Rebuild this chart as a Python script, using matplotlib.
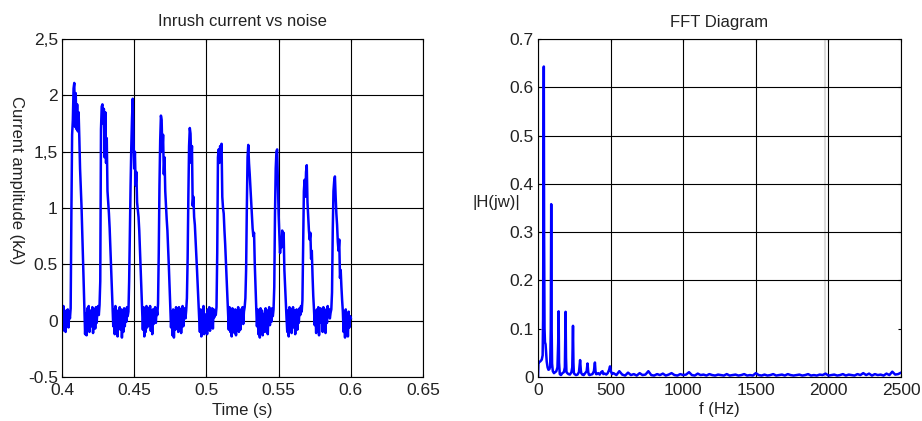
import numpy as np
import matplotlib
matplotlib.use("Agg")
import matplotlib.pyplot as plt

plt.rcParams['font.family'] = ['Liberation Sans', 'DejaVu Sans']

# inrush current samples (kA), one list per 20 ms cycle, sampled every 0.5 ms
t_start = 0.4
sample_step = 0.0005
cycle_1 = [0.03, -0.09, 0.13, -0.07, 0.06, -0.10, 0.09, -0.03, 0.10, -0.06, 0.08, 0.02, 0.11,
           0.95, 1.65, 1.78, 2.06, 2.11, 1.72, 2.02, 1.70, 1.92, 1.68, 1.85, 1.62, 1.35, 1.18, 1.02, 0.80, 0.58, 0.34, 0.10,
           -0.12, 0.06, -0.13, 0.11, -0.08, 0.13, -0.10, 0.04]
cycle_2 = [0.09, -0.05, 0.12, -0.11, 0.03, 0.10, -0.07, 0.12, -0.02, 0.08, 0.13, 0.05, 0.14,
           0.35, 1.70, 1.90, 1.92, 1.75, 1.88, 1.45, 1.85, 1.40, 1.62, 1.15, 1.05, 0.95, 0.82, 0.65, 0.50, 0.30, 0.12, -0.05,
           0.10, -0.12, 0.13, -0.06, 0.09, -0.14, 0.07, -0.04]
cycle_3 = [0.12, -0.08, 0.10, -0.15, 0.05, -0.10, 0.11, -0.05, 0.09, -0.01, 0.12, 0.04, 0.08,
           0.35, 0.80, 1.20, 1.55, 1.80, 1.97, 1.62, 1.35, 1.50, 1.20, 1.32, 1.05, 0.98, 0.92, 0.80, 0.62, 0.45, 0.28, 0.10,
           -0.08, 0.12, -0.14, 0.06, -0.10, 0.13, -0.06, 0.08]
cycle_4 = [0.11, -0.04, 0.13, -0.09, 0.07, -0.12, 0.10, -0.03, 0.06, 0.12, -0.02, 0.10, 0.05,
           0.15, 0.60, 1.20, 1.60, 1.82, 1.78, 1.50, 1.65, 1.30, 1.45, 1.15, 1.02, 0.90, 0.80, 0.65, 0.48, 0.30, 0.14, -0.06,
           0.08, -0.13, 0.10, -0.15, 0.05, -0.08, 0.12, -0.03]
cycle_5 = [0.09, -0.10, 0.12, -0.06, 0.10, -0.11, 0.04, 0.13, -0.05, 0.08, 0.11, 0.02, 0.09,
           0.20, 0.55, 1.10, 1.55, 1.71, 1.66, 1.40, 1.55, 1.02, 1.10, 0.92, 0.85, 0.72, 0.60, 0.45, 0.30, 0.15, 0.02, -0.10,
           0.10, -0.14, 0.07, -0.08, 0.13, -0.12, 0.05, -0.06]
cycle_6 = [0.06, -0.12, 0.10, -0.04, 0.12, -0.09, 0.08, -0.02, 0.11, -0.07, 0.10, 0.03, 0.07,
           0.05, 0.12, 0.60, 1.45, 1.52, 1.40, 1.55, 1.50, 1.57, 1.10, 1.00, 0.95, 0.80, 0.68, 0.52, 0.38, 0.22, 0.08, -0.08,
           0.12, -0.10, 0.08, -0.14, 0.11, -0.05, 0.09, -0.11]
cycle_7 = [0.10, -0.13, 0.08, -0.06, 0.12, -0.10, 0.05, -0.08, 0.10, 0.02, 0.12, -0.03, 0.08,
           0.12, 0.20, 0.45, 1.00, 1.45, 1.56, 1.40, 1.30, 1.18, 1.05, 0.95, 0.82, 0.75, 0.78, 0.50, 0.30, 0.12, -0.05, 0.10,
           -0.12, 0.07, -0.15, 0.11, -0.06, 0.09, -0.13, 0.06]
cycle_8 = [0.05, -0.10, 0.11, -0.03, 0.09, -0.12, 0.06, 0.12, -0.04, 0.10, -0.01, 0.11, 0.04,
           0.10, 0.30, 0.95, 1.35, 1.50, 1.52, 1.25, 0.95, 0.78, 0.60, 0.72, 0.65, 0.80, 0.70, 0.78, 0.45, 0.30, 0.15, 0.02,
           -0.10, 0.09, -0.14, 0.12, -0.05, 0.10, -0.11, 0.07]
cycle_9 = [0.12, -0.06, 0.09, -0.12, 0.04, 0.10, -0.08, 0.07, -0.02, 0.11, 0.05, 0.13, 0.08,
           0.18, 0.70, 1.15, 1.25, 1.10, 1.32, 1.38, 1.05, 0.92, 0.80, 0.72, 0.78, 0.55, 0.62, 0.40, 0.22, 0.10, -0.04, 0.08,
           -0.11, 0.10, -0.07, 0.12, -0.13, 0.06, 0.11, -0.02]
cycle_10 = [0.04, -0.10, 0.12, -0.05, 0.09, -0.11, 0.10, -0.02, 0.13, 0.06, 0.10, 0.02, 0.07,
            0.10, 0.25, 0.80, 1.15, 1.24, 1.28, 1.10, 0.95, 0.85, 0.70, 0.62, 0.72, 0.38, 0.45, 0.30, 0.18, 0.08, -0.10,
            0.05, -0.15, 0.10, -0.12, 0.03, -0.14, 0.08, -0.06, 0.04, 0.02]

current = np.array(cycle_1 + cycle_2 + cycle_3 + cycle_4 + cycle_5 +
                   cycle_6 + cycle_7 + cycle_8 + cycle_9 + cycle_10)
time = t_start + sample_step * np.arange(len(current))

# spectrum magnitude, low frequency harmonics
fft_freq_low = [0, 3, 10, 18, 26, 32, 35, 38, 40, 42, 45, 48, 52, 56, 60, 66, 72, 78, 84, 88, 91, 94, 97,
                102, 110, 118, 126, 134, 139, 142, 145, 150, 158, 168, 178, 185, 190, 193, 196, 202,
                210, 220, 230, 236, 241, 244, 247, 252, 262, 272, 282, 290, 295, 298, 305, 315, 325,
                335, 341, 346, 350, 355, 365, 375, 385, 392, 396, 400, 405, 415, 425, 435, 444, 450,
                460, 470, 480, 490, 496, 502, 510]
fft_mag_low = [0.0, 0.030, 0.031, 0.033, 0.036, 0.045, 0.12, 0.46, 0.643, 0.30, 0.10, 0.072, 0.068, 0.05, 0.032,
               0.020, 0.015, 0.016, 0.022, 0.10, 0.358, 0.10, 0.028, 0.012, 0.008, 0.010, 0.012, 0.020,
               0.070, 0.136, 0.030, 0.006, 0.004, 0.008, 0.010, 0.020, 0.135, 0.040, 0.010, 0.008,
               0.006, 0.005, 0.010, 0.020, 0.106, 0.030, 0.008, 0.006, 0.004, 0.005, 0.010, 0.035, 0.014,
               0.008, 0.005, 0.004, 0.008, 0.012, 0.028, 0.010, 0.005, 0.004, 0.005, 0.006, 0.012, 0.030,
               0.012, 0.006, 0.006, 0.008, 0.005, 0.010, 0.012, 0.006, 0.007, 0.005, 0.008, 0.015, 0.022,
               0.012, 0.006]

# noise floor above 500 Hz, 20 Hz steps
fft_freq_tail = list(range(520, 2501, 20))
fft_mag_tail = [0.008, 0.004, 0.012, 0.005, 0.003, 0.009, 0.004, 0.006, 0.003, 0.008, 0.004, 0.005, 0.012,
                0.004, 0.003, 0.006, 0.004, 0.007, 0.003, 0.005, 0.008, 0.004, 0.003, 0.006, 0.004,
                0.005, 0.010, 0.004, 0.003, 0.007, 0.004, 0.005, 0.003, 0.006, 0.004, 0.003, 0.005, 0.004,
                0.003, 0.006, 0.003, 0.004, 0.005, 0.003, 0.004, 0.006, 0.003, 0.004, 0.003, 0.008,
                0.004, 0.003, 0.005, 0.003, 0.004, 0.006, 0.003, 0.004, 0.005, 0.003, 0.006, 0.004, 0.003,
                0.004, 0.005, 0.003, 0.004, 0.006, 0.003, 0.004, 0.003, 0.005, 0.004, 0.007, 0.003,
                0.004, 0.005, 0.003, 0.004, 0.006, 0.003, 0.005, 0.004, 0.003, 0.006, 0.004, 0.008, 0.004,
                0.007, 0.003, 0.006, 0.004, 0.005, 0.003, 0.007, 0.004, 0.011, 0.005, 0.006, 0.009]

fft_freq = fft_freq_low + fft_freq_tail
fft_mag = fft_mag_low + fft_mag_tail

time_ticks = [0.4, 0.45, 0.5, 0.55, 0.6, 0.65]
time_tick_labels = ['0.4', '0.45', '0.5', '0.55', '0.6', '0.65']
current_ticks = [-0.5, 0, 0.5, 1, 1.5, 2, 2.5]
current_tick_labels = ['-0.5', '0', '0.5', '1', '1,5', '2', '2,5']
freq_ticks = [0, 500, 1000, 1500, 2000, 2500]
mag_ticks = [0, 0.1, 0.2, 0.3, 0.4, 0.5, 0.6, 0.7]
mag_tick_labels = ['0', '0.1', '0.2', '0.3', '0.4', '0.5', '0.6', '0.7']

text_color = '#222222'
fs = 12
tick_fs = 12.5

fig = plt.figure(figsize=(9.22, 4.21), dpi=100)
ax1 = fig.add_axes([62 / 922, 44 / 421, 361 / 922, 338 / 421])
ax2 = fig.add_axes([538 / 922, 44 / 421, 363 / 922, 338 / 421])

for ax in (ax1, ax2):
    ax.grid(True, color='black', linewidth=0.8, linestyle='-')
    ax.set_axisbelow(True)
    ax.tick_params(direction='in', length=2.5, top=True, right=True,
                   labelsize=tick_fs, labelcolor=text_color, pad=4)
    for sp in ax.spines.values():
        sp.set_color('black')
        sp.set_linewidth(0.8)

# left: time signal
ax1.plot(time, current, color='blue', linewidth=1.8)
ax1.set_xlim(0.4, 0.65)
ax1.set_ylim(-0.5, 2.5)
ax1.set_xticks(time_ticks)
ax1.set_xticklabels(time_tick_labels)
ax1.set_yticks(current_ticks)
ax1.set_yticklabels(current_tick_labels)
ax1.tick_params(axis='y', pad=3)
ax1.set_title('Inrush current vs noise', fontsize=fs, color=text_color, pad=9)
ax1.set_xlabel('Time (s)', fontsize=fs, color=text_color, labelpad=4)
ax1.set_ylabel('Current amplitude (kA)', fontsize=fs, color=text_color,
               rotation=270, va='center', ha='center')
ax1.yaxis.set_label_coords(-0.125, 0.583)

# right: spectrum
ax2.axvline(1975, color='#dcdcdc', linewidth=1.5, zorder=0)
ax2.plot(fft_freq, fft_mag, color='blue', linewidth=1.8)
ax2.set_xlim(0, 2500)
ax2.set_ylim(0, 0.7)
ax2.set_xticks(freq_ticks)
ax2.set_yticks(mag_ticks)
ax2.set_yticklabels(mag_tick_labels)
ax2.tick_params(axis='y', pad=3)
ax2.get_ygridlines()[1].set_visible(False)
ax2.set_title('FFT Diagram', fontsize=fs, color=text_color, pad=9)
ax2.set_xlabel('f (Hz)', fontsize=fs, color=text_color, labelpad=3)
ax2.set_ylabel('|H(jw)|', fontsize=fs, color=text_color,
               rotation=0, va='center', ha='center')
ax2.yaxis.set_label_coords(-0.114, 0.515)

fig.savefig('out.png', dpi=100)
